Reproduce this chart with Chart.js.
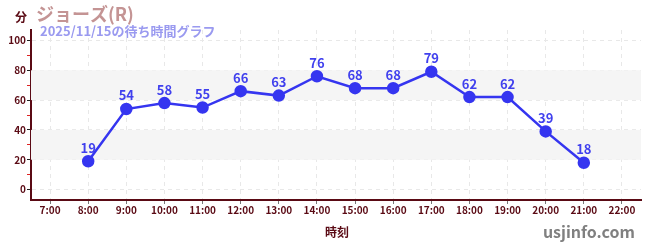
<!DOCTYPE html>
<html lang="ja">
<head>
<meta charset="utf-8">
<title>ジョーズ(R) 待ち時間</title>
<script src="https://cdn.jsdelivr.net/npm/chart.js"></script>
<style>
  html, body { margin: 0; padding: 0; background: #ffffff; }
  #wrap { width: 650px; height: 250px; position: relative; }
</style>
</head>
<body>
<div id="wrap"><canvas id="waitChart" width="650" height="250"></canvas></div>
<script>
// データ
const hours = [8, 9, 10, 11, 12, 13, 14, 15, 16, 17, 18, 19, 20, 21];
const waits = [19, 54, 58, 55, 66, 63, 76, 68, 68, 79, 62, 62, 39, 18];
const xTicks = [7, 8, 9, 10, 11, 12, 13, 14, 15, 16, 17, 18, 19, 20, 21, 22];
const yTicks = [0, 10, 20, 30, 40, 50, 60, 70, 80, 90, 100];
const bands = [[20, 40], [60, 80]];

const attraction = 'ジョーズ(R)';
const subtitle = '2025/11/15の待ち時間グラフ';
const FONT = '"Noto Sans CJK JP", "Noto Sans", sans-serif';
const DARK = '#5a0a14';

// 背景の帯
const bandPlugin = {
  id: 'bands',
  beforeDatasetsDraw(chart) {
    const { ctx, chartArea: a, scales: { y } } = chart;
    ctx.save();
    ctx.fillStyle = '#f5f5f5';
    bands.forEach(([lo, hi]) => {
      const top = y.getPixelForValue(hi);
      const bot = y.getPixelForValue(lo);
      ctx.fillRect(a.left, top, a.right - a.left, bot - top);
    });
    ctx.restore();
  }
};

// 値ラベルと文字
const textPlugin = {
  id: 'texts',
  afterDatasetsDraw(chart) {
    const { ctx } = chart;
    const meta = chart.getDatasetMeta(0);
    ctx.save();
    ctx.font = 'bold 13px ' + FONT;
    ctx.fillStyle = '#4040ee';
    ctx.textAlign = 'center';
    ctx.textBaseline = 'bottom';
    meta.data.forEach((pt, i) => {
      ctx.fillText(String(waits[i]), pt.x, pt.y - 7);
    });
    ctx.restore();
  },
  afterDraw(chart) {
    const { ctx } = chart;
    ctx.save();
    ctx.textBaseline = 'middle';
    ctx.textAlign = 'left';
    ctx.fillStyle = DARK;
    ctx.font = 'bold 12px ' + FONT;
    ctx.fillText('分', 15, 17);
    ctx.fillStyle = '#c49494';
    ctx.font = 'bold 18px ' + FONT;
    ctx.fillText(attraction, 36, 14);
    ctx.fillStyle = '#9a9af0';
    ctx.font = 'bold 13px ' + FONT;
    ctx.fillText(subtitle, 40, 31);
    ctx.fillStyle = DARK;
    ctx.font = 'bold 12px ' + FONT;
    ctx.textAlign = 'center';
    ctx.fillText('時刻', 337, 232);
    ctx.fillStyle = '#808080';
    ctx.font = 'bold 16px ' + FONT;
    ctx.textAlign = 'right';
    ctx.fillText('usjinfo.com', 635, 232);
    ctx.restore();
  }
};

new Chart(document.getElementById('waitChart'), {
  type: 'line',
  data: {
    datasets: [{
      data: hours.map((h, i) => ({ x: h, y: waits[i] })),
      borderColor: '#3535f0',
      backgroundColor: '#3535f0',
      borderWidth: 2.5,
      pointRadius: 5,
      pointHoverRadius: 5,
      tension: 0
    }]
  },
  options: {
    responsive: false,
    animation: false,
    layout: { padding: { top: 30, right: 9, left: 0, bottom: 0 } },
    plugins: { legend: { display: false }, tooltip: { enabled: false } },
    scales: {
      x: {
        type: 'linear',
        min: 6.5,
        max: 22.5,
        afterBuildTicks: s => { s.ticks = xTicks.map(v => ({ value: v })); },
        afterFit: s => { s.height = 50; },
        border: { color: DARK, width: 2, dash: [4, 4] },
        grid: { color: '#e8e8e8', tickColor: '#777', tickLength: 4, tickBorderDash: [] },
        ticks: {
          color: DARK,
          font: { family: FONT, size: 10, weight: 'bold' },
          padding: 0,
          maxRotation: 0,
          callback: v => v + ':00'
        }
      },
      y: {
        min: -7,
        max: 107,
        afterBuildTicks: s => { s.ticks = yTicks.map(v => ({ value: v })); },
        afterFit: s => { s.width = 31; },
        border: { color: DARK, width: 2, dash: [4, 4] },
        grid: {
          color: c => (c.tick && c.tick.value % 20 === 0) ? '#e8e8e8' : 'rgba(0,0,0,0)',
          tickColor: c => (c.tick && c.tick.value % 20 === 0) ? '#222' : '#dd2222',
          tickLength: 4,
          tickBorderDash: []
        },
        ticks: {
          color: DARK,
          font: { family: FONT, size: 10, weight: 'bold' },
          padding: 1,
          callback: v => (v % 20 === 0 ? String(v) : '')
        }
      }
    }
  },
  plugins: [bandPlugin, textPlugin]
});
</script>
</body>
</html>
